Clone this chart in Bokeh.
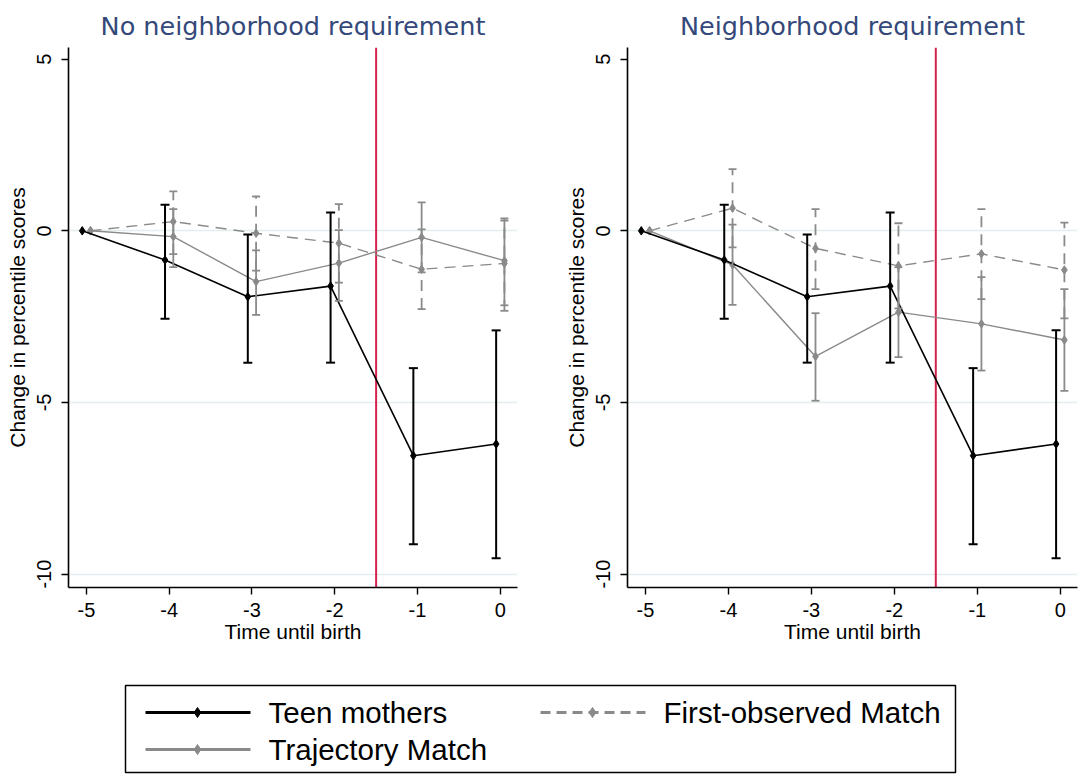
import math
from bokeh.plotting import figure
from bokeh.models import Range1d, FixedTicker, Whisker, TeeHead, ColumnDataSource, Span
from bokeh.layouts import row, column
from bokeh.embed import file_html
from bokeh.resources import INLINE
from bokeh.core.properties import value

# ---------------- data ----------------
years = [-5, -4, -3, -2, -1, 0]
x_ticks = [-5, -4, -3, -2, -1, 0]
x_tick_labels = ["-5", "-4", "-3", "-2", "-1", "0"]
y_ticks = [-10, -5, 0, 5]
y_tick_labels = ["-10", "-5", "0", "5"]
grid_ticks = [-10, -5, 0]
event_line = -1.5

panel_titles = ["No neighborhood requirement", "Neighborhood requirement"]
series_names = ["Teen mothers", "Trajectory Match", "First-observed Match"]

# Teen mothers (same in both panels)
teen = [0.0, -0.85, -1.92, -1.61, -6.55, -6.21]
teen_lo = [None, -2.56, -3.84, -3.84, -9.13, -9.54]
teen_hi = [None, 0.76, -0.11, 0.53, -4.00, -2.90]

# Left panel: no neighborhood requirement
traj_left = [0.0, -0.17, -1.48, -0.94, -0.19, -0.87]
traj_left_lo = [None, -1.06, -2.45, -2.04, -1.21, -2.17]
traj_left_hi = [None, 0.63, -0.57, 0.02, 0.83, 0.36]
first_left = [0.0, 0.27, -0.07, -0.36, -1.12, -0.95]
first_left_lo = [None, -0.68, -1.16, -1.51, -2.28, -2.33]
first_left_hi = [None, 1.15, 1.00, 0.78, 0.04, 0.30]

# Right panel: neighborhood requirement
traj_right = [0.0, -0.99, -3.66, -2.37, -2.71, -3.18]
traj_right_lo = [None, -2.16, -4.95, -3.68, -4.07, -4.66]
traj_right_hi = [None, 0.18, -2.40, -1.06, -1.35, -1.70]
first_right = [0.0, 0.66, -0.51, -1.02, -0.67, -1.14]
first_right_lo = [None, -0.48, -1.70, -2.26, -1.99, -2.55]
first_right_hi = [None, 1.80, 0.63, 0.22, 0.63, 0.24]

# ---------------- style ----------------
BLACK = "#000000"
GRAY = "#8a8a8a"
RED = "#d4224e"
TITLE_COLOR = "#34497a"
GRID_COLOR = "#e4eeee"
AX_FONT = "Liberation Sans"
BLACK_SHIFT = -0.05
GRAY_SHIFT = 0.05


def add_series(p, ys, lo, hi, color, shift, dash, lw, wlw, cap):
    xs = [x + shift for x in years]
    p.line(xs, ys, line_color=color, line_width=lw, line_dash=dash)
    idx = [i for i in range(len(years)) if lo[i] is not None]
    src = ColumnDataSource(dict(x=[xs[i] for i in idx],
                                lo=[lo[i] for i in idx],
                                hi=[hi[i] for i in idx]))
    w = Whisker(source=src, base="x", lower="lo", upper="hi",
                line_color=color, line_width=wlw, line_dash=dash,
                upper_head=TeeHead(size=cap, line_color=color, line_width=wlw),
                lower_head=TeeHead(size=cap, line_color=color, line_width=wlw),
                level="glyph")
    p.add_layout(w)
    p.scatter(xs, ys, marker="diamond", size=8.5, fill_color=color, line_color=color)


def panel(title, traj, traj_lo, traj_hi, first, first_lo, first_hi, width, lb, rb):
    p = figure(width=width, height=648,
               x_range=Range1d(-5.216, 0.208), y_range=Range1d(-10.39, 5.34),
               output_backend="svg", toolbar_location=None,
               min_border_left=lb, min_border_right=rb,
               min_border_top=47, min_border_bottom=61)
    p.title.text = title
    p.title.align = "center"
    p.title.text_font = "DejaVu Sans"
    p.title.text_font_size = "25.5px"
    p.title.text_font_style = "normal"
    p.title.text_color = TITLE_COLOR
    p.title.text_line_height = 0.8
    p.title.standoff = 14
    p.outline_line_color = None
    p.background_fill_color = "white"
    p.border_fill_color = "white"

    p.xgrid.visible = False
    p.ygrid.ticker = FixedTicker(ticks=grid_ticks)
    p.ygrid.grid_line_color = GRID_COLOR
    p.ygrid.grid_line_width = 1.5

    p.xaxis.ticker = FixedTicker(ticks=x_ticks)
    p.yaxis.ticker = FixedTicker(ticks=y_ticks)
    p.xaxis.major_label_overrides = dict(zip(x_ticks, x_tick_labels))
    p.yaxis.major_label_overrides = dict(zip(y_ticks, y_tick_labels))
    p.yaxis.major_label_orientation = "vertical"
    for ax in (p.xaxis[0], p.yaxis[0]):
        ax.axis_line_color = BLACK
        ax.axis_line_width = 1.6
        ax.major_tick_line_color = BLACK
        ax.major_tick_line_width = 1.4
        ax.major_tick_out = 7
        ax.major_tick_in = 0
        ax.minor_tick_out = 0
        ax.minor_tick_in = 0
        ax.major_label_text_font = AX_FONT
        ax.major_label_text_font_size = "20px"
        ax.major_label_text_color = BLACK
        ax.axis_label_text_font = AX_FONT
        ax.axis_label_text_font_size = "21px"
        ax.axis_label_text_font_style = "normal"
        ax.axis_label_text_color = BLACK
    p.xaxis.axis_label = "Time until birth"
    p.xaxis.major_label_standoff = 8
    p.xaxis.axis_label_standoff = 0
    p.yaxis.axis_label = "Change in percentile scores"
    p.yaxis.major_label_standoff = 10
    p.yaxis.axis_label_standoff = 6

    p.add_layout(Span(location=event_line, dimension="height",
                      line_color=RED, line_width=2, level="underlay"))

    add_series(p, first, first_lo, first_hi, GRAY, GRAY_SHIFT, "11 7", 1.4, 1.8, 8)
    add_series(p, traj, traj_lo, traj_hi, GRAY, GRAY_SHIFT, "solid", 1.4, 1.8, 8)
    add_series(p, teen, teen_lo, teen_hi, BLACK, BLACK_SHIFT, "solid", 1.6, 2.0, 9)
    return p


p_left = panel(panel_titles[0], traj_left, traj_left_lo, traj_left_hi,
               first_left, first_left_lo, first_left_hi, 540, 68, 23)
p_right = panel(panel_titles[1], traj_right, traj_right_lo, traj_right_hi,
                first_right, first_right_lo, first_right_hi, 539, 87, 2)

# ---------------- legend ----------------
leg = figure(width=1079, height=128, x_range=Range1d(0, 1079), y_range=Range1d(128, 0),
             output_backend="svg", toolbar_location=None, min_border=0,
             x_axis_type=None, y_axis_type=None)
leg.grid.visible = False
leg.outline_line_color = None
leg.quad(left=[125], right=[955], top=[37], bottom=[124],
         fill_color=None, line_color=BLACK, line_width=1.5)

leg_colors = [BLACK, GRAY, GRAY]
leg_dash = ["solid", "solid", "10 6"]
leg_x0 = [145, 145, 540]
leg_y = [64, 101, 64]
for i in range(3):
    leg.segment(x0=[leg_x0[i]], y0=[leg_y[i]], x1=[leg_x0[i] + 105], y1=[leg_y[i]],
                line_color=leg_colors[i], line_width=3, line_dash=leg_dash[i])
    leg.scatter(x=[leg_x0[i] + 52], y=[leg_y[i]], marker="diamond", size=10,
                fill_color=leg_colors[i], line_color=leg_colors[i])
leg.text(x=[x + 123 for x in leg_x0], y=leg_y, text=series_names,
         text_baseline="middle", text_align="left",
         text_font=value("Liberation Sans"), text_font_size="29.5px",
         text_color=BLACK)

layout = column(row(p_left, p_right), leg)
open("out.html", "w").write(file_html(layout, INLINE))
